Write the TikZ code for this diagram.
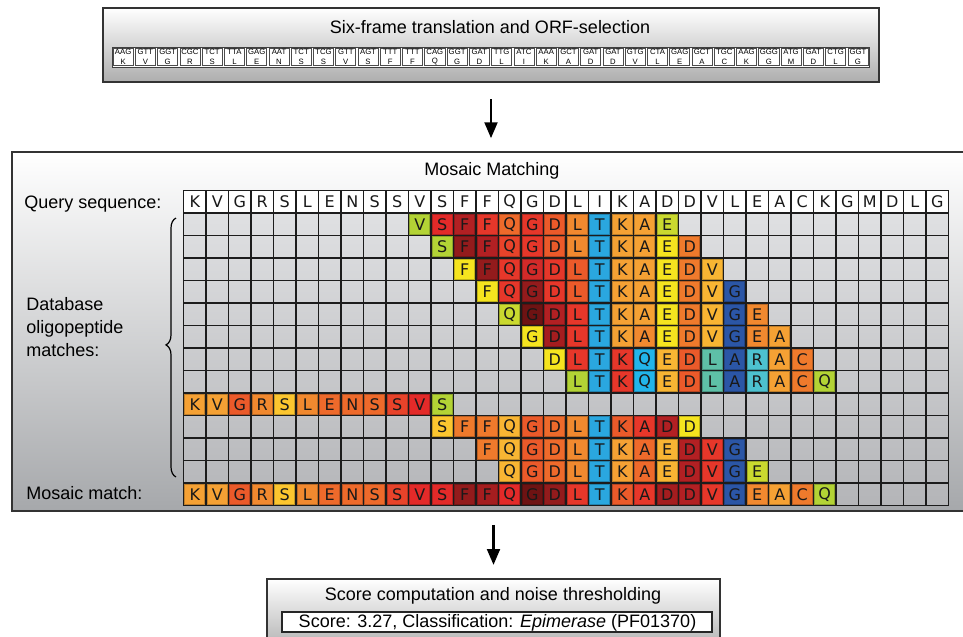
\documentclass[tikz,border=0pt]{standalone}
\usepackage{fontspec}
\setmainfont{Liberation Sans}
\newfontfamily\cellfont{DejaVu Sans}
\usetikzlibrary{decorations.pathreplacing,arrows.meta}
\definecolor{lim}{HTML}{B3D335}
\definecolor{lmy}{HTML}{CAD92F}
\definecolor{yel}{HTML}{F5E41F}
\definecolor{gld}{HTML}{FCC62F}
\definecolor{gol}{HTML}{F8B533}
\definecolor{lor}{HTML}{F5A134}
\definecolor{ora}{HTML}{F1892F}
\definecolor{orn}{HTML}{EF7A2C}
\definecolor{orr}{HTML}{EE6A2B}
\definecolor{oro}{HTML}{EB5A2A}
\definecolor{rd3}{HTML}{E8432A}
\definecolor{rdd}{HTML}{E6372A}
\definecolor{rd2}{HTML}{E32A29}
\definecolor{rdk}{HTML}{D22A29}
\definecolor{drd}{HTML}{B22023}
\definecolor{drm}{HTML}{A51D1F}
\definecolor{ddr}{HTML}{931B1C}
\definecolor{vdr}{HTML}{6E1313}
\definecolor{blu}{HTML}{2AA7DF}
\definecolor{sky}{HTML}{22B5EA}
\definecolor{dbl}{HTML}{2B56A6}
\definecolor{tea}{HTML}{5EC0A7}
\definecolor{cya}{HTML}{4DC1CF}
\definecolor{boxline}{HTML}{333333}
\definecolor{gridl}{HTML}{1C1C1C}
\newcommand\lblfont{\fontsize{13.5}{17.25}\selectfont}
\newcommand\mrow[3]{%
  \foreach \lt/\cl [count=\k from #2] in {#3} {
    \fill[fill=\cl] ({183.5+\k*22.5},{190.5+#1*22.5}) rectangle ++(22.5,22.5);
    \draw[draw=\cl!78!black, line width=0.6pt] ({183.5+\k*22.5+1.3},{190.5+#1*22.5+1.3}) rectangle ++(19.9,19.9);
    \node[cellletter] (m#1-\k) at ({183.5+(\k+0.5)*22.5},{190.5+(#1+0.5)*22.5}) {\lt};
  }}
\tikzset{
  panel/.style={draw=boxline, line width=1.4pt, inner sep=0pt, outer sep=0pt, anchor=north west},
  cellletter/.style={inner sep=0pt, font=\cellfont\fontsize{12}{12}\selectfont, text=black!90},
  codtext/.style={inner sep=0pt, font=\fontsize{5.8}{5.8}\selectfont, text=black},
  codbox/.style={draw=black!70, fill=white, line width=0.5pt},
  gridline/.style={draw=gridl, line width=0.9pt},
  gridthick/.style={draw=gridl, line width=1.4pt},
  flowarrow/.style={line width=2.2pt, -{Triangle[length=12pt,width=9.5pt]}},
  lbl/.style={inner sep=0pt, font=\lblfont}
}
\begin{document}
\begin{tikzpicture}[x=0.75pt,y=-0.75pt]
\useasboundingbox (0,0) rectangle (963,636);
\begin{scope}
\clip (0,0) rectangle (963,636);
% top panel
\node[panel, minimum width=582pt, minimum height=55.5pt, top color=white, bottom color=black!32] (topbox) at (103,8) {};
\node[lbl] (title1) at (490,27.5) {Six-frame translation and ORF-selection};
\node[draw=black!75, fill=white, line width=0.6pt, inner sep=0pt, outer sep=0pt, anchor=north west, minimum width=567.75pt, minimum height=15pt] (strip) at (112,47) {};
\foreach \cd/\aa [count=\k from 0] in {AAG/K,GTT/V,GGT/G,CGC/R,TCT/S,TTA/L,GAG/E,AAT/N,TCT/S,TCG/S,GTT/V,AGT/S,TTT/F,TTT/F,CAG/Q,GGT/G,GAT/D,TTG/L,ATC/I,AAA/K,GCT/A,GAT/D,GAT/D,GTG/V,CTA/L,GAG/E,GCT/A,TGC/C,AAG/K,GGG/G,ATG/M,GAT/D,CTG/L,GGT/G} {
  \draw[codbox] ({112+\k*22.265+1.1},48.4) rectangle ({112+(\k+1)*22.265-1.1},65.6);
  \node[codtext] (cod\k) at ({112+(\k+0.5)*22.265},51.8) {\cd};
  \node[codtext] (aa\k) at ({112+(\k+0.5)*22.265},61.8) {\aa};
}
% main panel
\node[panel, minimum width=718.5pt, minimum height=269pt, top color=white, bottom color={rgb,255:red,166;green,168;blue,171}] (mainbox) at (12,152.3) {};
\node[lbl] (title2) at (492,171) {Mosaic Matching};
\node[lbl, anchor=base west] (qlabel) at (24,208) {Query sequence:};
\node[lbl, anchor=north west, align=left] (dblabel) at (26,297) {Database\\oligopeptide\\matches:};
\node[lbl, anchor=base west] (mlabel) at (26,499) {Mosaic match:};
% grid backgrounds
\node[inner sep=0pt, outer sep=0pt, anchor=north west, minimum width=573.75pt, minimum height=16.875pt, fill=white] (qrowbg) at (183.5,190.5) {};
\node[inner sep=0pt, outer sep=0pt, anchor=north west, minimum width=573.75pt, minimum height=219.375pt, top color={rgb,255:red,223;green,224;blue,226}, bottom color={rgb,255:red,180;green,181;blue,184}] (gridbg) at (183.5,213) {};
% query letters
\foreach \lt [count=\k from 0] in {K,V,G,R,S,L,E,N,S,S,V,S,F,F,Q,G,D,L,I,K,A,D,D,V,L,E,A,C,K,G,M,D,L,G} {
  \node[cellletter] (q\k) at ({183.5+(\k+0.5)*22.5},{190.5+0.5*22.5}) {\lt};
}
% match rows
\mrow{1}{10}{V/lim,S/rd2,F/drd,F/rdd,Q/orr,G/rdd,D/oro,L/ora,T/blu,K/lor,A/lor,E/lmy}
\mrow{2}{11}{S/lim,F/ddr,F/drd,Q/rd3,G/rdd,D/oro,L/ora,T/blu,K/lor,A/lor,E/yel,D/orn}
\mrow{3}{12}{F/yel,F/ddr,Q/rdd,G/rdk,D/rdd,L/oro,T/blu,K/lor,A/lor,E/yel,D/orn,V/gol}
\mrow{4}{13}{F/yel,Q/rdd,G/ddr,D/rdd,L/oro,T/blu,K/lor,A/lor,E/yel,D/orn,V/gol,G/dbl}
\mrow{5}{14}{Q/lmy,G/vdr,D/drd,L/rdd,T/blu,K/lor,A/lor,E/yel,D/orn,V/gol,G/dbl,E/ora}
\mrow{6}{15}{G/yel,D/drm,L/rdd,T/blu,K/lor,A/ora,E/yel,D/orn,V/gol,G/dbl,E/ora,A/lor}
\mrow{7}{16}{D/yel,L/rdd,T/blu,K/rdd,Q/sky,E/gol,D/oro,L/tea,A/dbl,R/cya,A/lor,C/orn}
\mrow{8}{17}{L/lim,T/blu,K/rdd,Q/sky,E/gol,D/oro,L/tea,A/dbl,R/cya,A/lor,C/orn,Q/lim}
\mrow{9}{0}{K/lor,V/lor,G/oro,R/ora,S/gld,L/ora,E/orr,N/orr,S/orr,S/rd3,V/rd2,S/lim}
\mrow{10}{11}{S/gld,F/orn,F/orn,Q/gol,G/oro,D/orr,L/ora,T/blu,K/oro,A/rdd,D/drd,D/yel}
\mrow{11}{13}{F/orn,Q/gol,G/oro,D/orr,L/ora,T/blu,K/lor,A/orr,E/gol,D/drd,V/rdd,G/dbl}
\mrow{12}{14}{Q/gol,G/oro,D/orr,L/ora,T/blu,K/lor,A/orr,E/gol,D/drd,V/rdd,G/dbl,E/lmy}
\mrow{13}{0}{K/lor,V/lor,G/oro,R/ora,S/gld,L/ora,E/orr,N/orr,S/orr,S/rd3,V/rd2,S/rd2,F/ddr,F/drm,Q/rd2,G/vdr,D/ddr,L/rdd,T/blu,K/oro,A/rdd,D/drm,D/drd,V/rdd,G/dbl,E/ora,A/lor,C/orn,Q/lim}
% grid lines
\foreach \i in {1,...,33} \draw[gridline] ({183.5+\i*22.5},190.5) -- ({183.5+\i*22.5},505.5);
\foreach \j in {2,...,8,10,11,12} \draw[gridline] (183.5,{190.5+\j*22.5}) -- (948.5,{190.5+\j*22.5});
\foreach \j in {1,9,13} \draw[gridthick] (183.5,{190.5+\j*22.5}) -- (948.5,{190.5+\j*22.5});
\draw[gridthick] (183.5,190.5) rectangle (948.5,505.5);
% brace
\draw[line width=0.9pt, decorate, decoration={brace, amplitude=7.5pt, aspect=0.51}] (176,477) -- (176,218);
% bottom panel
\node[panel, minimum width=339.75pt, minimum height=60pt, top color=white, bottom color=black!35] (botbox) at (267,579) {};
\node[lbl] (title3) at (493,596) {Score computation and noise thresholding};
\node[draw=black!85, fill=white, line width=1pt, inner sep=0pt, outer sep=0pt, minimum width=322.5pt, minimum height=15pt] (scorebox) at (497,622) {};
\node[lbl] (score) at (497.5,622.5) {Score: 3.27, Classification: \textit{Epimerase} (PF01370)};
% arrows
\draw[flowarrow, shorten <=12.75pt, shorten >=10.5pt] (topbox.south) -- (topbox.south |- mainbox.north);
\draw[flowarrow, shorten <=10.5pt, shorten >=10.5pt] (mainbox.south -| botbox.north) -- (botbox.north);
\end{scope}
\end{tikzpicture}
\end{document}
